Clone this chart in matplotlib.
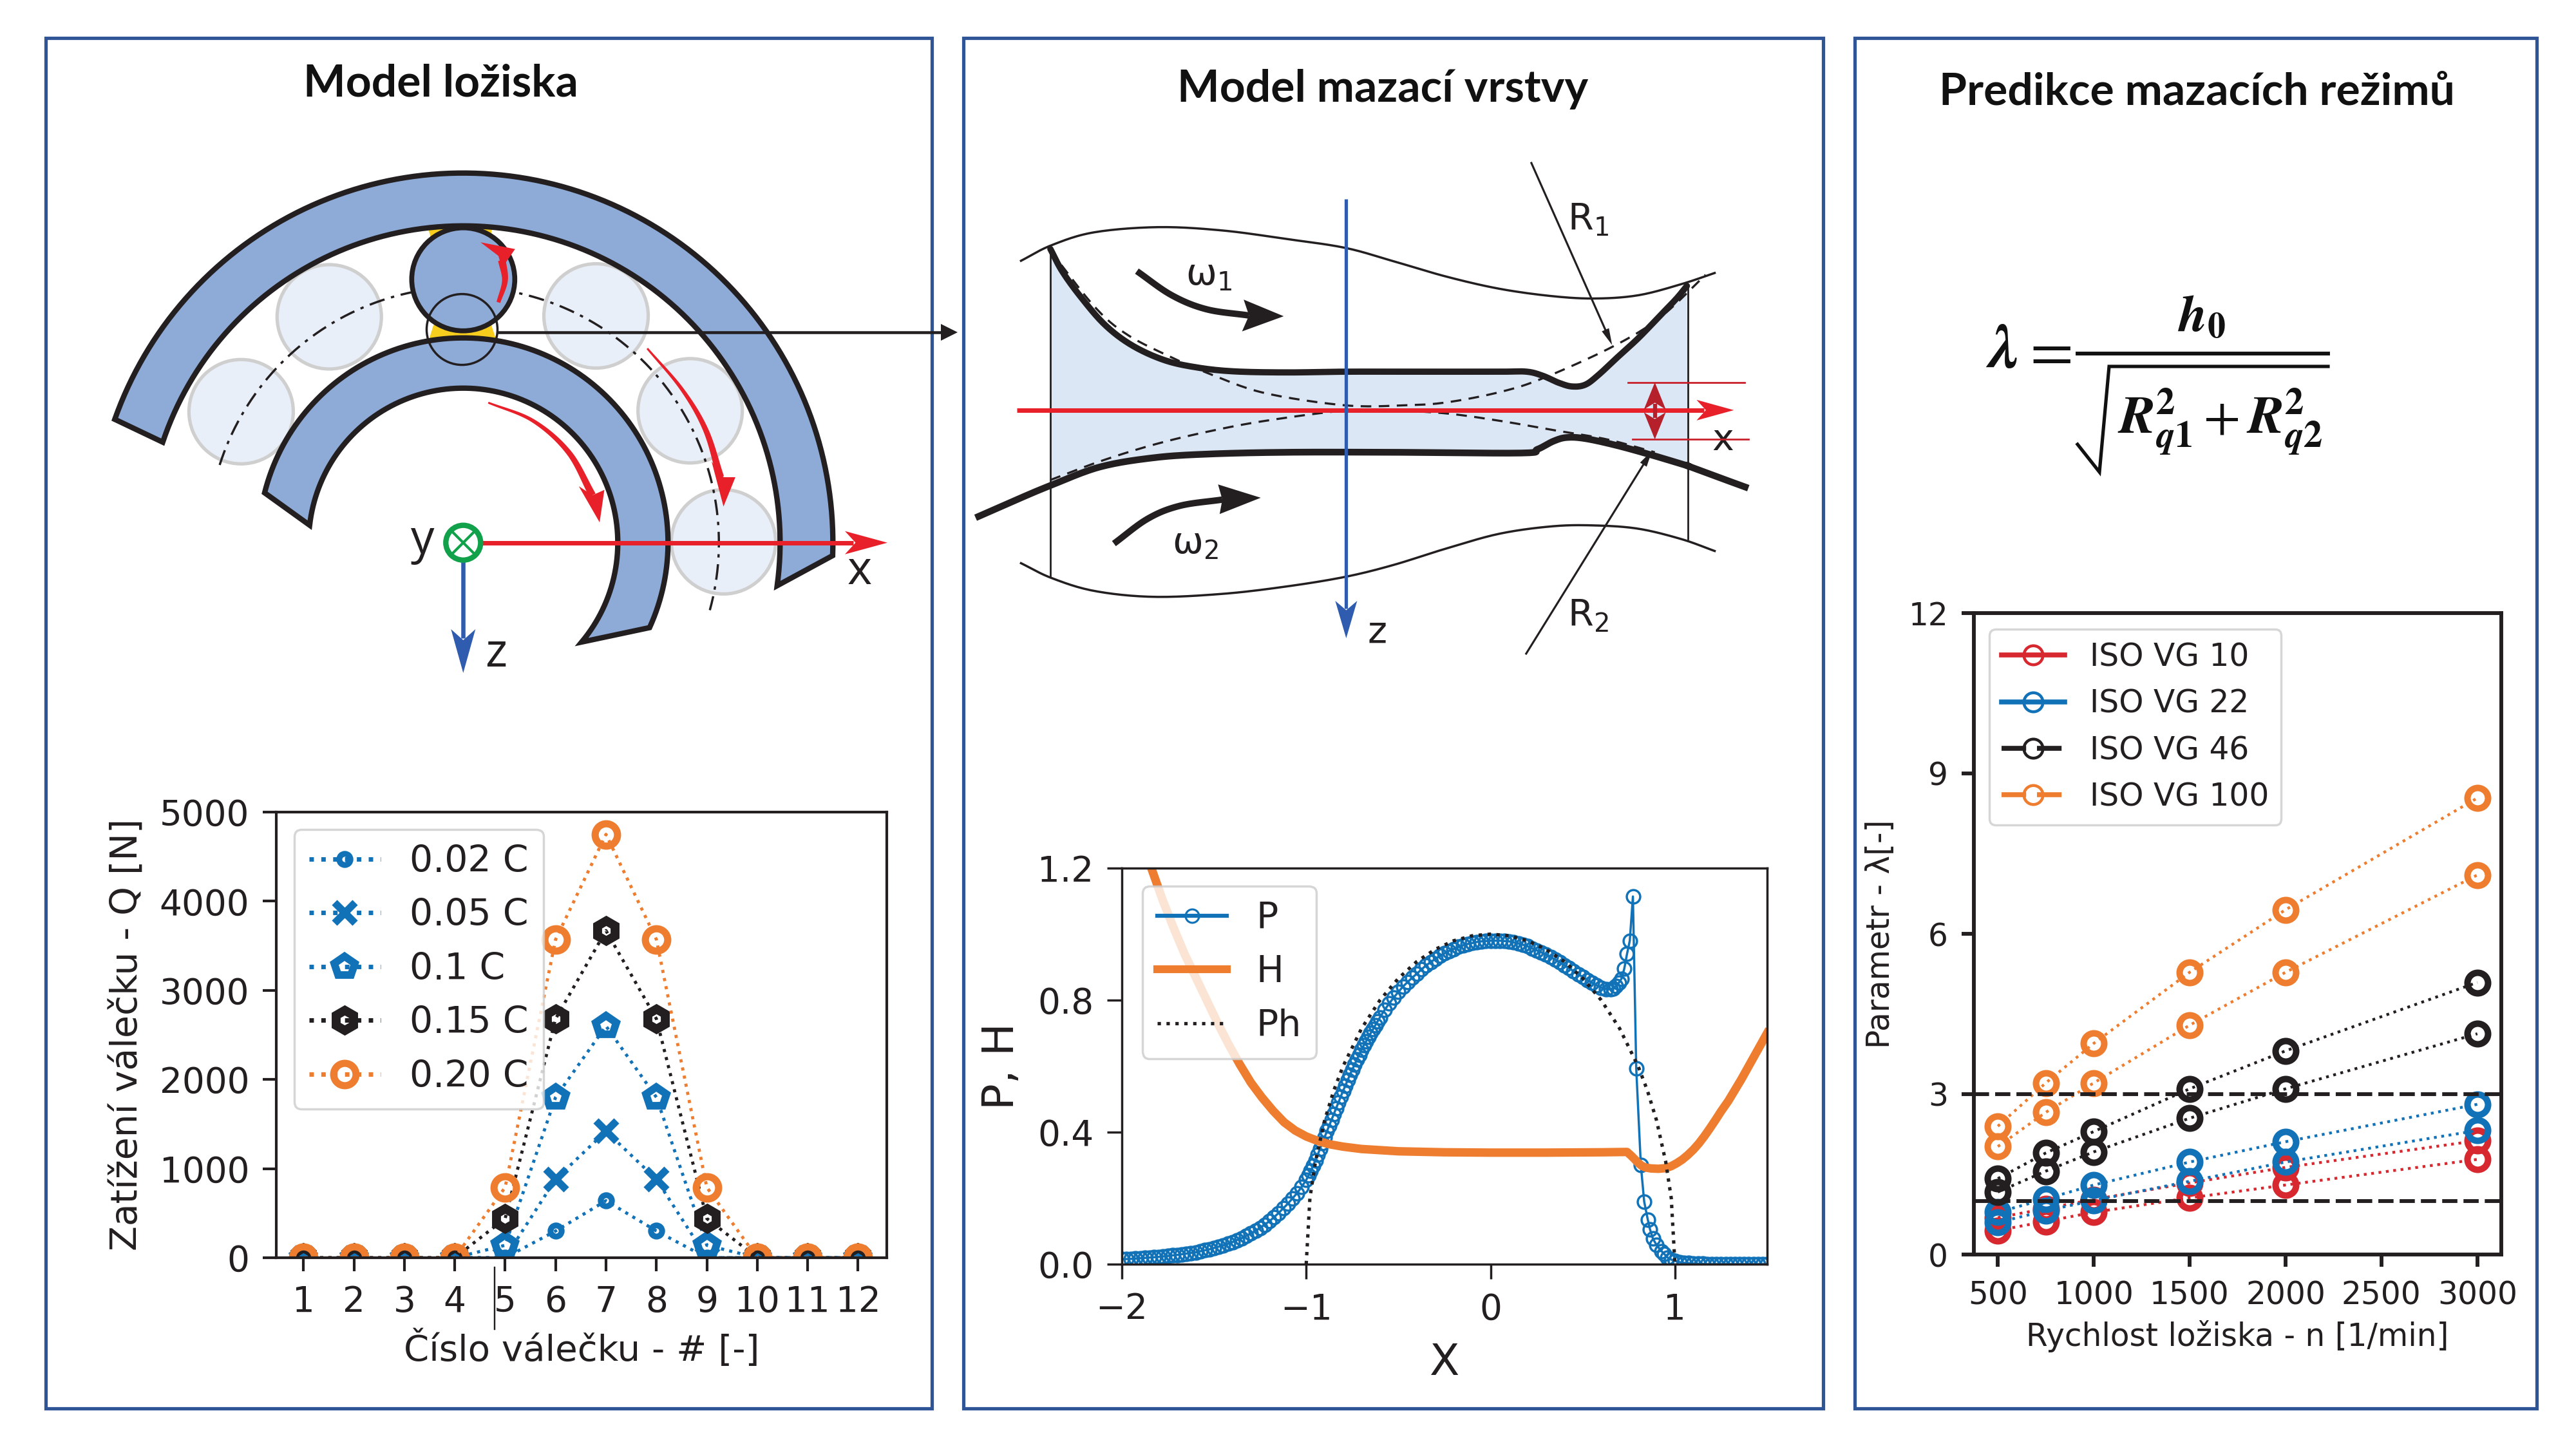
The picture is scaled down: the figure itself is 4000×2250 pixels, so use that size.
import numpy as np
import matplotlib
matplotlib.use("Agg")
import matplotlib.pyplot as plt
from matplotlib.lines import Line2D
from matplotlib.patches import Circle, Polygon, Rectangle

# roller loads
roller_no = [1, 2, 3, 4, 5, 6, 7, 8, 9, 10, 11, 12]
load_002 = [0, 0, 0, 0, 0, 300, 640, 300, 0, 0, 0, 0]
load_005 = [0, 0, 0, 0, 0, 880, 1420, 880, 0, 0, 0, 0]
load_010 = [0, 0, 0, 0, 140, 1800, 2600, 1800, 140, 0, 0, 0]
load_015 = [0, 0, 0, 0, 440, 2680, 3670, 2680, 440, 0, 0, 0]
load_020 = [0, 0, 0, 0, 790, 3570, 4750, 3570, 790, 0, 0, 0]

# EHL pressure and film
p_x = [-2.000, -1.975, -1.950, -1.925, -1.900, -1.875, -1.850, -1.825, -1.800, -1.775, -1.750, -1.725,
       -1.700, -1.675, -1.650, -1.625, -1.600, -1.575, -1.550, -1.525, -1.500, -1.475, -1.450, -1.425,
       -1.400, -1.375, -1.350, -1.325, -1.300, -1.275, -1.250, -1.225, -1.200, -1.175, -1.150, -1.125,
       -1.100, -1.075, -1.050, -1.025, -1.000, -0.9875, -0.975, -0.9625, -0.950, -0.9375, -0.925, -0.9125,
       -0.900, -0.8875, -0.875, -0.8625, -0.850, -0.8375, -0.825, -0.8125, -0.800, -0.7875, -0.775, -0.7625,
       -0.750, -0.7375, -0.725, -0.7125, -0.700, -0.6875, -0.675, -0.6625, -0.650, -0.6375, -0.625, -0.6125,
       -0.600, -0.575, -0.550, -0.525, -0.500, -0.475, -0.450, -0.425, -0.400, -0.375, -0.350, -0.325,
       -0.300, -0.275, -0.250, -0.225, -0.200, -0.175, -0.150, -0.125, -0.100, -0.075, -0.050, -0.025,
       0.000, 0.025, 0.050, 0.075, 0.100, 0.125, 0.150, 0.175, 0.200, 0.225, 0.250, 0.275,
       0.300, 0.325, 0.350, 0.375, 0.400, 0.425, 0.450, 0.475, 0.500, 0.525, 0.550, 0.575,
       0.600, 0.625, 0.650, 0.665, 0.680, 0.695, 0.710, 0.725, 0.740, 0.755, 0.772, 0.790,
       0.815, 0.833, 0.853, 0.865, 0.880, 0.900, 0.926, 0.940, 0.960, 0.980, 1.000, 1.025,
       1.050, 1.075, 1.100, 1.125, 1.150, 1.175, 1.200, 1.225, 1.250, 1.275, 1.300, 1.325,
       1.350, 1.375, 1.400, 1.425, 1.450, 1.475, 1.500]
p_y = [0.015, 0.0155, 0.016, 0.017, 0.018, 0.019, 0.020, 0.021, 0.022, 0.0235, 0.025, 0.0265,
       0.028, 0.030, 0.032, 0.034, 0.036, 0.039, 0.042, 0.045, 0.049, 0.053, 0.057, 0.062,
       0.067, 0.073, 0.079, 0.086, 0.093, 0.101, 0.110, 0.120, 0.130, 0.142, 0.155, 0.169,
       0.183, 0.199, 0.215, 0.234, 0.255, 0.269, 0.283, 0.298, 0.315, 0.332, 0.350, 0.367,
       0.385, 0.403, 0.420, 0.438, 0.455, 0.473, 0.490, 0.508, 0.525, 0.541, 0.558, 0.574,
       0.590, 0.605, 0.620, 0.635, 0.650, 0.663, 0.675, 0.688, 0.700, 0.712, 0.724, 0.736,
       0.748, 0.770, 0.790, 0.808, 0.825, 0.841, 0.855, 0.868, 0.880, 0.893, 0.905, 0.915,
       0.925, 0.934, 0.942, 0.949, 0.955, 0.961, 0.966, 0.970, 0.973, 0.976, 0.978, 0.979,
       0.980, 0.980, 0.980, 0.979, 0.978, 0.975, 0.972, 0.968, 0.963, 0.957, 0.951, 0.945,
       0.938, 0.931, 0.923, 0.915, 0.906, 0.897, 0.888, 0.879, 0.870, 0.861, 0.853, 0.845,
       0.838, 0.834, 0.833, 0.836, 0.842, 0.852, 0.865, 0.895, 0.940, 0.980, 1.114, 0.593,
       0.300, 0.190, 0.134, 0.105, 0.078, 0.058, 0.040, 0.032, 0.020, 0.014, 0.010, 0.006,
       0.004, 0.003, 0.002, 0.001, 0.001, 0, 0, 0, 0, 0, 0, 0,
       0, 0, 0, 0, 0, 0, 0]
h_x = [-1.84, -1.78, -1.72, -1.66, -1.60, -1.54, -1.48, -1.42, -1.36, -1.30, -1.24, -1.18, -1.12, -1.06,
       -1.00, -0.94, -0.88, -0.80, -0.70, -0.50, -0.25, 0.00, 0.30, 0.60, 0.74, 0.76, 0.78, 0.80, 0.82, 0.84,
       0.87, 0.91, 0.95, 0.98, 1.01, 1.04, 1.07, 1.10, 1.13, 1.16, 1.19, 1.22, 1.25, 1.29, 1.36, 1.43, 1.50]
h_y = [1.20, 1.105, 1.02, 0.94, 0.87, 0.80, 0.73, 0.665, 0.605, 0.55, 0.505, 0.465, 0.43, 0.405,
       0.387, 0.374, 0.364, 0.356, 0.349, 0.342, 0.339, 0.338, 0.338, 0.339, 0.340, 0.330, 0.319, 0.307, 0.298, 0.293,
       0.290, 0.289, 0.291, 0.297, 0.306, 0.317, 0.331, 0.347, 0.366, 0.388, 0.412, 0.437, 0.463, 0.495, 0.56, 0.63, 0.70]
ph_x = [-1.00, -0.98, -0.95, -0.90, -0.85, -0.80, -0.70, -0.60, -0.50, -0.40, -0.30, -0.20, -0.10,
        0.00, 0.10, 0.20, 0.30, 0.40, 0.50, 0.60, 0.70, 0.80, 0.85, 0.90, 0.95, 0.98, 1.00]
ph_y = [0.0, 0.20, 0.31, 0.436, 0.527, 0.60, 0.714, 0.80, 0.866, 0.917, 0.954, 0.98, 0.995,
        1.0, 0.995, 0.98, 0.954, 0.917, 0.866, 0.80, 0.714, 0.60, 0.527, 0.436, 0.31, 0.20, 0.0]

# lambda parameter
speed = [500, 750, 1000, 1500, 2000, 3000]
vg10_a = [0.69, 0.86, 1.03, 1.34, 1.63, 2.13]
vg10_b = [0.45, 0.62, 0.79, 1.06, 1.30, 1.78]
vg22_a = [0.79, 1.04, 1.30, 1.73, 2.11, 2.81]
vg22_b = [0.60, 0.82, 1.01, 1.37, 1.73, 2.32]
vg46_a = [1.42, 1.90, 2.30, 3.10, 3.81, 5.09]
vg46_b = [1.17, 1.56, 1.92, 2.55, 3.10, 4.13]
vg100_a = [2.40, 3.21, 3.95, 5.28, 6.45, 8.54]
vg100_b = [2.02, 2.66, 3.21, 4.29, 5.28, 7.10]
limits = [3, 1]

BLUE = "#1172b8"
ORANGE = "#ee7d2f"
RED = "#d7282f"
INK = "#231f20"
FRAME = "#2f5597"
RING = "#8eabd8"
PALE = "#e9eff8"
FILM = "#dce7f5"
YELLOW = "#f7cd1e"
GREEN = "#12a14b"
ARROW_RED = "#e8202a"
ARROW_BLUE = "#2f5cae"
W, H = 4000, 2250

plt.rcParams["font.family"] = "DejaVu Sans"
plt.rcParams["text.color"] = INK
plt.rcParams["axes.labelcolor"] = INK
plt.rcParams["xtick.labelcolor"] = INK
plt.rcParams["ytick.labelcolor"] = INK

fig = plt.figure(figsize=(16, 9), dpi=250, facecolor="white")
bg = fig.add_axes([0, 0, 1, 1], zorder=0)
bg.set_xlim(0, W)
bg.set_ylim(H, 0)
bg.axis("off")


def px_axes(left, top, right, bottom):
    return fig.add_axes([left / W, 1 - bottom / H, (right - left) / W, (bottom - top) / H], zorder=1)


def smooth(pts, n=14):
    # catmull-rom through the hand-placed knots
    p = np.asarray(pts, dtype=float)
    p = np.vstack([2 * p[0] - p[1], p, 2 * p[-1] - p[-2]])
    out = []
    for i in range(1, len(p) - 2):
        for t in np.linspace(0, 1, n, endpoint=False):
            out.append(0.5 * (2 * p[i] + (p[i + 1] - p[i - 1]) * t
                              + (2 * p[i - 1] - 5 * p[i] + 4 * p[i + 1] - p[i + 2]) * t ** 2
                              + (3 * p[i] - p[i - 1] - 3 * p[i + 1] + p[i + 2]) * t ** 3))
    out.append(p[-2])
    return np.array(out)


def arc(r, a0, a1, n=120):
    a = np.radians(np.linspace(a0, a1, n))
    return np.column_stack([CX + r * np.cos(a), CY - r * np.sin(a)])


def bear(pts):
    p = np.asarray(pts, dtype=float)
    return np.column_stack([60 + p[:, 0] / 1.0814, 50 + p[:, 1] / 1.4255])


def film(pts):
    p = np.asarray(pts, dtype=float)
    return np.column_stack([1500 + p[:, 0] / 1.206, 200 + p[:, 1] / 1.742])


def head(tip, d, length, width, color, notch=0.25, z=6):
    d = np.asarray(d, dtype=float) / np.hypot(*d)
    nrm = np.array([-d[1], d[0]])
    tip = np.asarray(tip, dtype=float)
    base = tip - d * length
    pts = [tip, base + nrm * width / 2, tip - d * length * (1 - notch), base - nrm * width / 2]
    bg.add_patch(Polygon(pts, closed=True, fc=color, ec="none", zorder=z))


def straight(p0, p1, lw, color, hl, hw, notch=0.25, z=5):
    p0, p1 = np.asarray(p0, float), np.asarray(p1, float)
    d = p1 - p0
    u = d / np.hypot(*d)
    end = p1 - u * hl * 0.8
    bg.plot([p0[0], end[0]], [p0[1], end[1]], color=color, lw=lw, solid_capstyle="butt", zorder=z)
    head(p1, d, hl, hw, color, notch, z + 1)


def curved(knots, w0, w1, color, z=5):
    # tapered body, the head is a separate polygon
    s = smooth(knots)
    t = np.gradient(s, axis=0)
    t /= np.hypot(t[:, 0], t[:, 1])[:, None]
    nrm = np.column_stack([-t[:, 1], t[:, 0]])
    w = np.linspace(w0, w1, len(s))[:, None] / 2
    bg.add_patch(Polygon(np.vstack([s + nrm * w, (s - nrm * w)[::-1]]), closed=True, fc=color, ec="none", zorder=z))


# panel frames
for x0, x1 in [(71, 1447), (1496, 2831), (2880, 3939)]:
    bg.add_patch(Rectangle((x0, 59), x1 - x0, 2128, fc="none", ec=FRAME, lw=1.5))

title_kw = dict(family="Lato", weight="bold", fontsize=20, ha="center", va="center", color="#111111")
bg.text(684, 130, "Model ložiska", **title_kw)
bg.text(2147, 138, "Model mazací vrstvy", **title_kw)
bg.text(3411, 143, "Predikce mazacích režimů", **title_kw)

# ---- bearing sketch ----
CX, CY = 719.3, 842.7
outer = np.vstack([arc(574, 160.5, -2), arc(492, -7.8, 161.5)])
inner = np.vstack([arc(318, 165.9, -24.5), arc(240, -40, 173.5)])
for x, y in bear([(488, 630), (936, 628), (340, 840), (1094, 838), (1150, 1128)]):
    bg.add_patch(Circle((x, y), 81, fc=PALE, ec="#cfcfcf", lw=1.5, zorder=1))
bg.add_patch(Polygon(bear([(650, 415), (765, 415), (757, 462), (660, 462)]), closed=True, fc=YELLOW, ec="none", zorder=1.5))
bg.add_patch(Polygon(bear([(665, 640), (758, 640), (772, 695), (652, 695)]), closed=True, fc=YELLOW, ec="none", zorder=1.5))
for poly in (outer, inner):
    bg.add_patch(Polygon(poly, closed=True, fc=RING, ec=INK, lw=2.4, joinstyle="miter", zorder=2))
bg.plot(*arc(397, 162.3, -15.3).T, color=INK, lw=1.0, ls=(0, (7, 3, 1.5, 3)), zorder=3)
x, y = bear([(713, 547)])[0]
bg.add_patch(Circle((x, y), 80, fc=RING, ec=INK, lw=2.2, zorder=4))
x, y = bear([(711, 658)])[0]
bg.add_patch(Circle((x, y), 55, fc="none", ec=INK, lw=1.0, zorder=5))
straight((772, 516), (1487, 516), 1.3, INK, 26, 26, notch=0.0, z=5)

curved(bear([(772, 598), (783, 550), (778, 505)]), 6, 12, ARROW_RED)
bg.add_patch(Polygon(bear([(742, 465), (800, 480), (778, 522), (772, 495)]), closed=True, fc=ARROW_RED, ec="none", zorder=6))
curved(bear([(1022, 700), (1080, 790), (1120, 880), (1145, 985)]), 3, 11, ARROW_RED)
bg.add_patch(Polygon(bear([(1150, 1050), (1130, 950), (1150, 985), (1170, 985)]), closed=True, fc=ARROW_RED, ec="none", zorder=6))
curved(bear([(755, 820), (830, 860), (890, 930), (930, 1025)]), 3, 11, ARROW_RED)
bg.add_patch(Polygon(bear([(942, 1085), (907, 1005), (930, 1025), (950, 1013)]), closed=True, fc=ARROW_RED, ec="none", zorder=6))

straight((735, CY), (1378, CY), 2.0, ARROW_RED, 66, 36)
straight((CX, 848), (CX, 1045), 1.9, ARROW_BLUE, 68, 38)
bg.add_patch(Circle((CX, CY), 27, fc="white", ec=GREEN, lw=2.4, zorder=5))
bg.plot([CX - 19, CX + 19], [CY - 19, CY + 19], color=GREEN, lw=1.2, zorder=6)
bg.plot([CX - 19, CX + 19], [CY + 19, CY - 19], color=GREEN, lw=1.2, zorder=6)
label_kw = dict(family="Open Sans", fontsize=21, ha="center", va="center", color=INK)
bg.text(656, 840, "y", **label_kw)
bg.text(1335, 888, "x", **label_kw)
bg.text(770, 1016, "z", **label_kw)

# ---- film sketch, knots read in crop coordinates ----
top_thin = [(103, 357), (160, 315), (240, 280), (360, 266), (480, 275), (600, 298), (710, 322), (800, 358),
            (900, 400), (1000, 433), (1100, 453), (1180, 459), (1260, 450), (1340, 420), (1402, 390)]
bot_thin = [(103, 1175), (160, 1215), (240, 1250), (350, 1266), (480, 1258), (600, 1238), (710, 1212), (800, 1180),
            (900, 1135), (1000, 1095), (1100, 1075), (1180, 1073), (1260, 1082), (1340, 1110), (1402, 1142)]
top_thick = [(158, 325), (180, 385), (215, 455), (260, 530), (310, 585), (370, 625), (430, 645), (500, 656),
             (600, 659), (710, 657), (850, 657), (1000, 657), (1050, 657), (1080, 668), (1110, 687), (1135, 697),
             (1160, 692), (1185, 665), (1220, 618), (1260, 565), (1300, 505), (1330, 460), (1350, 425)]
bot_left = [(18, 1052), (100, 1000), (158, 965)]
bot_mid = [(158, 965), (250, 915), (350, 890), (450, 880), (600, 875), (800, 875), (1040, 877), (1070, 867),
           (1100, 845), (1125, 835), (1160, 838), (1220, 857), (1290, 885), (1352, 912)]
bot_right = [(1352, 912), (1410, 943), (1465, 972)]
dash_top = [(158, 330), (240, 480), (300, 555), (380, 615), (460, 665), (560, 715), (710, 748), (820, 748),
            (900, 740), (1000, 712), (1080, 675), (1210, 590), (1300, 510), (1385, 395)]
dash_bot = [(158, 950), (250, 900), (350, 855), (450, 820), (560, 790), (710, 762), (800, 762), (900, 770),
            (1000, 790), (1100, 815), (1200, 840), (1290, 875)]

s_top = film(smooth(top_thick))
s_bot = film(smooth(bot_mid))
bg.add_patch(Polygon(np.vstack([s_top, s_bot[::-1]]), closed=True, fc=FILM, ec="none", zorder=1))
for knots in (top_thin, bot_thin):
    bg.plot(*film(smooth(knots)).T, color=INK, lw=1.0, zorder=2)
bg.plot(*film([(158, 320), (158, 1210)]).T, color=INK, lw=0.8, zorder=2)
bg.plot(*film([(1352, 425), (1352, 1110)]).T, color=INK, lw=0.8, zorder=2)
for knots in (dash_top, dash_bot):
    bg.plot(*film(smooth(knots)).T, color=INK, lw=0.95, ls=(0, (5, 3.5)), zorder=3)
bg.plot(*s_top.T, color=INK, lw=2.8, zorder=4, solid_capstyle="round")
bg.plot(*film(smooth(bot_left + bot_mid[1:] + bot_right)).T, color=INK, lw=3.0, zorder=4, solid_capstyle="butt")

p0, p1 = film([(95, 761), (1438, 761)])
straight(p0, p1, 2.0, ARROW_RED, 58, 32)
p0, p1 = film([(712, 190), (712, 1378)])
straight(p0, p1, 1.5, ARROW_BLUE, 58, 34)
bg.plot(*film([(1240, 686), (1458, 686)]).T, color="#c8202a", lw=0.8, zorder=5)
bg.plot(*film([(1248, 840), (1465, 840)]).T, color="#c8202a", lw=0.8, zorder=5)
p0, p1 = film([(1290, 762), (1290, 686)])
straight(p0, p1, 1.8, "#b5202a", 42, 34)
p0, p1 = film([(1290, 762), (1290, 840)])
straight(p0, p1, 1.8, "#b5202a", 42, 34)
p0, p1 = film([(1058, 90), (1210, 585)])
straight(p0, p1, 0.9, INK, 26, 12, notch=0.0)
p0, p1 = film([(1048, 1422), (1285, 870)])
straight(p0, p1, 0.9, INK, 26, 12, notch=0.0)
curved(film([(320, 385), (385, 450), (450, 488), (530, 505)]), 10, 10, INK)
bg.add_patch(Polygon(film([(595, 507), (520, 462), (530, 505), (517, 548)]), closed=True, fc=INK, ec="none", zorder=6))
curved(film([(277, 1122), (340, 1055), (400, 1020), (480, 1003)]), 10, 10, INK)
bg.add_patch(Polygon(film([(552, 998), (472, 962), (480, 1003), (475, 1042)]), closed=True, fc=INK, ec="none", zorder=6))

sketch_kw = dict(fontsize=16.5, ha="center", va="center", color=INK)
for (x, y), s in zip(film([(1165, 248), (1165, 1318), (455, 395), (430, 1122), (1417, 843), (770, 1362)]),
                     ["R$_1$", "R$_2$", "ω$_1$", "ω$_2$", "x", "z"]):
    bg.text(x, y, s, **sketch_kw)

# ---- lambda formula ----
f_kw = dict(math_fontfamily="stix", color="#111111", ha="center", va="center")
bg.text(3108, 545, r"$\mathbfit{\lambda}$", fontsize=28, **f_kw)
bg.text(3177, 548, r"$=$", fontsize=28, **f_kw)
bg.text(3419, 492, r"$\mathbfit{h}_{\mathbf{0}}$", fontsize=23, **f_kw)
bg.plot([3226, 3615], [549, 549], color="#111111", lw=1.7)
bg.plot([3226, 3260, 3275, 3615], [690, 733, 569, 569], color="#111111", lw=1.5, solid_joinstyle="miter")
bg.text(3447, 656, r"$\mathbfit{R}_{\mathbfit{q}\mathbf{1}}^{\mathbf{2}}+\mathbfit{R}_{\mathbfit{q}\mathbf{2}}^{\mathbf{2}}$",
        fontsize=24, **f_kw)

# ---- roller load chart ----
ax1 = px_axes(429, 1261, 1377, 1953)
series = [
    (load_002, BLUE, "o", 5.0, 2.6, "none", "0.02 C"),
    (load_005, BLUE, "x", 9.5, 3.3, "none", "0.05 C"),
    (load_010, BLUE, "p", 9.5, 3.4, "none", "0.1 C"),
    (load_015, INK, "h", 9.0, 4.0, "none", "0.15 C"),
    (load_020, ORANGE, "o", 10.0, 3.2, "none", "0.20 C"),
]
for vals, color, mk, ms, mew, mfc, lab in series:
    ax1.plot(roller_no, vals, ls=":", lw=1.4, color=color, marker=mk, ms=ms, mew=mew, mfc=mfc, mec=color, label=lab)
ax1.set_xlim(0.46, 12.57)
ax1.set_ylim(0, 5000)
ax1.set_xticks(roller_no)
ax1.set_yticks([0, 1000, 2000, 3000, 4000, 5000])
ax1.set_xlabel("Číslo válečku - # [-]", fontsize=16.2, labelpad=5)
ax1.set_ylabel("Zatížení válečku - Q [N]", fontsize=16.4)
ax1.yaxis.set_label_coords(-0.215, 0.5)
leg1 = ax1.legend(loc="upper left", bbox_to_anchor=((457 - 429) / 948, 1 - (1288 - 1261) / 692), borderaxespad=0,
                  fontsize=16.4, handlelength=1.95)
for line in leg1.get_lines():
    line.set_linewidth(2.0)
bg.plot([768, 768], [1968, 2064], color=INK, lw=0.7)

# ---- pressure / film chart ----
ax2 = px_axes(1742, 1348, 2744, 1963)
ax2.plot(p_x, p_y, color=BLUE, lw=1.0, marker="o", ms=6, mfc="none", mew=1.0)
ax2.plot(h_x, h_y, color=ORANGE, lw=3.8)
ax2.plot(ph_x, ph_y, color=INK, lw=1.5, ls=":")
ax2.set_xlim(-2, 1.5)
ax2.set_ylim(0, 1.2)
ax2.set_xticks([-2, -1, 0, 1])
ax2.set_yticks([0, 0.4, 0.8, 1.2])
ax2.set_xlabel("X", fontsize=19.5, labelpad=6.5)
ax2.set_ylabel("P, H", fontsize=19.5)
ax2.yaxis.set_label_coords(-0.154, 0.5)
ax2.legend(handles=[
    Line2D([], [], color=BLUE, lw=1.8, marker="o", ms=6, mfc="none", mew=0.9, label="P"),
    Line2D([], [], color=ORANGE, lw=3.5, label="H"),
    Line2D([], [], color=INK, lw=1.5, ls=":", label="Ph"),
], loc="upper left", bbox_to_anchor=((1774 - 1742) / 1002, 1 - (1376 - 1348) / 615), borderaxespad=0,
    fontsize=16.4, handlelength=1.9)

# ---- lambda chart ----
ax3 = px_axes(3065, 952, 3884, 1948)
for vals_a, vals_b, color in [(vg10_a, vg10_b, RED), (vg22_a, vg22_b, BLUE), (vg46_a, vg46_b, INK),
                              (vg100_a, vg100_b, ORANGE)]:
    for vals in (vals_a, vals_b):
        ax3.plot(speed, vals, ls=":", lw=1.25, color=color, marker="o", ms=9.2, mfc="none", mew=2.9)
for lim in limits:
    ax3.axhline(lim, color=INK, lw=1.7, ls=(0, (4, 1.6)))
ax3.set_xlim(375, 3125)
ax3.set_ylim(0, 12)
ax3.set_xticks([500, 1000, 1500, 2000, 2500, 3000])
ax3.set_yticks([0, 3, 6, 9, 12])
ax3.set_xlabel("Rychlost ložiska - n [1/min]", fontsize=14, labelpad=4)
ax3.set_ylabel("Parametr - λ[-]", fontsize=14, labelpad=5.5)
handle_kw = dict(lw=2.2, marker="o", ms=8.5, mfc="none", mew=1.3)
ax3.legend(handles=[
    Line2D([], [], color=RED, label="ISO VG 10", **handle_kw),
    Line2D([], [], color=BLUE, label="ISO VG 22", **handle_kw),
    Line2D([], [], color=INK, ls=(0, (5, 2.2)), label="ISO VG 46", **handle_kw),
    Line2D([], [], color=ORANGE, ls=(0, (5, 2.2)), label="ISO VG 100", **handle_kw),
], loc="upper left", bbox_to_anchor=((3089 - 3065) / 819, 1 - (977 - 952) / 996), borderaxespad=0,
    fontsize=14, handlelength=2.0)

for ax, spine_w, tick_len, size in [(ax1, 1.2, 6, 15.8), (ax2, 1.0, 6.5, 15.8), (ax3, 1.7, 5.5, 14)]:
    for sp in ax.spines.values():
        sp.set_linewidth(spine_w)
        sp.set_color(INK)
    ax.tick_params(length=tick_len, width=spine_w, labelsize=size, pad=6, color=INK)

fig.savefig("out.png", dpi=250)
plt.close(fig)
